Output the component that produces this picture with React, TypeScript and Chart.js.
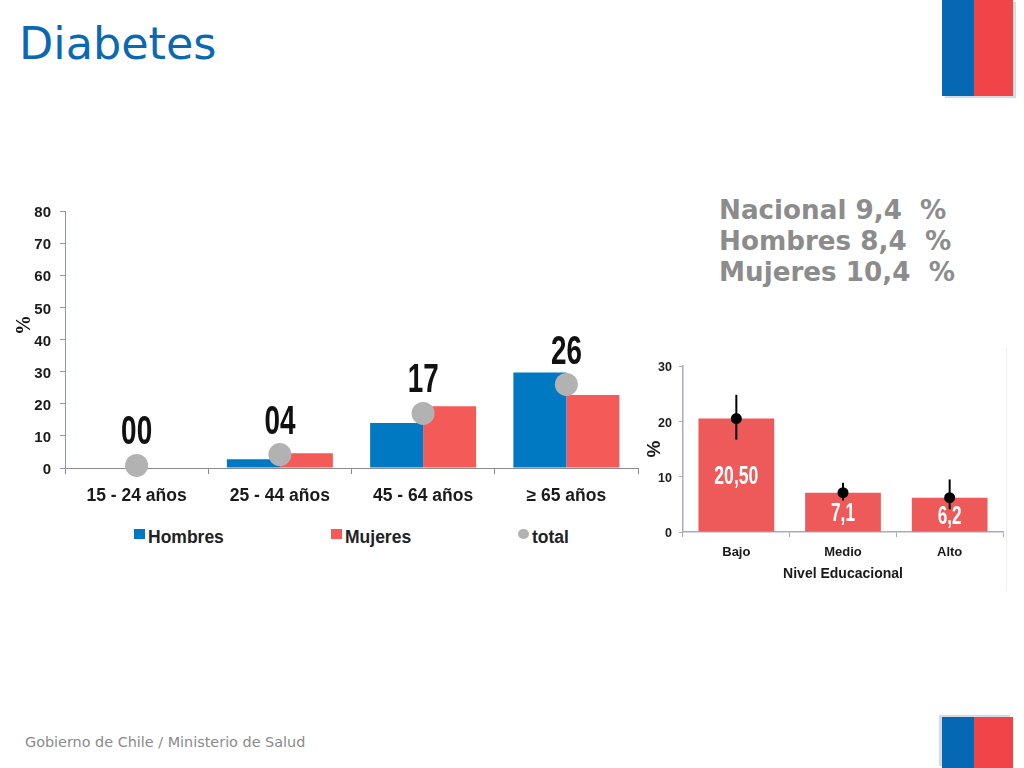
import React, { useEffect, useRef } from 'react'
import { Chart, registerables } from 'chart.js'
import type { Plugin } from 'chart.js'

Chart.register(...registerables)

const grupos = ['15 - 24 años', '25 - 44 años', '45 - 64 años', '≥ 65 años']
const hombres = [0, 2.7, 14, 29.7]
const mujeres = [0, 4.6, 19.2, 22.7]
const total = [0.8, 4.2, 17, 26]
const totalTextos = ['00', '04', '17', '26']

const niveles = ['Bajo', 'Medio', 'Alto']
const prevalencia = [20.5, 7.1, 6.2]
const intervalos: [number, number][] = [[16.7, 24.8], [5.7, 8.9], [4.1, 9.5]]
const prevalenciaTextos = ['20,50', '7,1', '6,2']

const resumen = ['Nacional 9,4  %', 'Hombres 8,4  %', 'Mujeres 10,4  %']

const AZUL = '#0079c2'
const ROJO = '#f45b58'
const ROJO2 = '#ee5a5a'
const GRIS = '#b2b2b2'
const FONT = '"Liberation Sans", Arial, sans-serif'

const totalLabels: Plugin<'bar'> = {
  id: 'totalLabels',
  afterDraw(chart) {
    const { ctx } = chart
    ctx.save()
    ctx.fillStyle = '#111'
    ctx.textAlign = 'center'
    ctx.textBaseline = 'middle'
    ctx.font = `bold 40px ${FONT}`
    chart.getDatasetMeta(2).data.forEach((pt, i) => {
      ctx.fillText(totalTextos[i], pt.x, pt.y - 32, 31)
    })
    // axis title sits above the middle of the axis in the original
    ctx.translate(25, 135)
    ctx.rotate(-Math.PI / 2)
    ctx.font = 'bold 20px "Liberation Serif", serif'
    ctx.fillText('%', 0, 0)
    ctx.restore()
  },
}

const barLabels: Plugin<'bar'> = {
  id: 'barLabels',
  afterDatasetsDraw(chart) {
    const { ctx } = chart
    ctx.save()
    ctx.fillStyle = '#fff'
    ctx.textAlign = 'center'
    ctx.textBaseline = 'middle'
    ctx.font = `bold 26px ${FONT}`
    chart.getDatasetMeta(0).data.forEach((bar, i) => {
      const c = bar.getCenterPoint()
      ctx.fillText(prevalenciaTextos[i], c.x, c.y + 2, i === 0 ? 44 : 24)
    })
    ctx.restore()
  },
}

const GruposChart: React.FC = () => {
  const ref = useRef<HTMLCanvasElement | null>(null)
  useEffect(() => {
    if (!ref.current) return
    const chart = new Chart(ref.current, {
      type: 'bar',
      data: {
        labels: grupos,
        datasets: [
          { label: 'Hombres', data: hombres, backgroundColor: AZUL, order: 1, barPercentage: 1, categoryPercentage: 0.74 },
          { label: 'Mujeres', data: mujeres, backgroundColor: ROJO, order: 1, barPercentage: 1, categoryPercentage: 0.74 },
          {
            type: 'line',
            label: 'total',
            data: total,
            showLine: false,
            pointRadius: 11.5,
            pointBackgroundColor: GRIS,
            pointBorderWidth: 0,
            clip: false,
            order: 0,
          },
        ] as any,
      },
      options: {
        responsive: false,
        animation: false,
        layout: { padding: { top: 21, right: 22, left: 0, bottom: 0 } },
        plugins: { legend: { display: false }, tooltip: { enabled: false } },
        scales: {
          x: {
            grid: { drawOnChartArea: false, color: '#8b8b8b', tickLength: 6 },
            border: { color: '#8b8b8b' },
            ticks: { color: '#1a1a1a', font: { family: FONT, size: 17.5, weight: 'bold' }, padding: 12, maxRotation: 0 },
            afterFit: (s: any) => { s.height = 50 },
          },
          y: {
            min: 0,
            max: 80,
            grid: { drawOnChartArea: false, color: '#8f93bd', tickLength: 5 },
            border: { color: '#8f93bd' },
            ticks: { stepSize: 10, color: '#1a1a1a', font: { family: FONT, size: 15, weight: 'bold' }, padding: 9, labelOffset: 2 },
            afterFit: (s: any) => { s.width = 65 },
          },
        },
      },
      plugins: [totalLabels],
    })
    return () => chart.destroy()
  }, [])
  return <canvas ref={ref} width={660} height={328} style={{ position: 'absolute', left: 0, top: 190 }} />
}

const NivelChart: React.FC = () => {
  const ref = useRef<HTMLCanvasElement | null>(null)
  useEffect(() => {
    if (!ref.current) return
    const chart = new Chart(ref.current, {
      type: 'bar',
      data: {
        labels: niveles,
        datasets: [
          { label: 'Prevalencia', data: prevalencia, backgroundColor: ROJO2, order: 2, grouped: false, barPercentage: 0.71, categoryPercentage: 1 },
          { label: 'IC 95%', data: intervalos, backgroundColor: '#000', order: 1, grouped: false, maxBarThickness: 2 },
          {
            type: 'line',
            label: 'Estimación',
            data: prevalencia,
            showLine: false,
            pointRadius: 5.5,
            pointBackgroundColor: '#000',
            pointBorderWidth: 0,
            order: 0,
          },
        ] as any,
      },
      options: {
        responsive: false,
        animation: false,
        layout: { padding: { top: 26, right: 21, left: 0, bottom: 0 } },
        plugins: { legend: { display: false }, tooltip: { enabled: false } },
        scales: {
          x: {
            grid: { drawOnChartArea: false, color: '#a9a9c4', tickLength: 5 },
            border: { color: '#a9a9c4', width: 1.5 },
            ticks: { color: '#1a1a1a', font: { family: FONT, size: 13, weight: 'bold' }, padding: 8 },
            title: { display: true, text: 'Nivel Educacional', color: '#1a1a1a', font: { family: FONT, size: 14, weight: 'bold' }, padding: { top: 5, bottom: 17 } },
            afterFit: (s: any) => { s.height = 68 },
          },
          y: {
            min: 0,
            max: 30,
            grid: { drawOnChartArea: false, color: '#a9a9c4', tickLength: 4 },
            border: { color: '#a9a9c4', width: 1.5 },
            ticks: { stepSize: 10, color: '#1a1a1a', font: { family: FONT, size: 12.5, weight: 'bold' }, padding: 7, labelOffset: 2 },
            title: { display: true, text: '%', color: '#1a1a1a', font: { family: FONT, size: 19, weight: 'bold' }, padding: { top: 3, bottom: 3 } },
            afterFit: (s: any) => { s.width = 43 },
          },
        },
      },
      plugins: [barLabels],
    })
    return () => chart.destroy()
  }, [])
  return <canvas ref={ref} width={384} height={260} style={{ position: 'absolute', left: 640, top: 340 }} />
}

const Leyenda: React.FC = () => {
  const items = [
    { text: 'Hombres', color: AZUL, left: 134, round: false },
    { text: 'Mujeres', color: ROJO, left: 331, round: false },
    { text: 'total', color: GRIS, left: 518, round: true },
  ]
  return (
    <>
      {items.map((it) => (
        <div key={it.text} style={{ position: 'absolute', left: it.left, top: 527, height: 20, display: 'flex', alignItems: 'center', gap: 3, font: `bold 17.5px ${FONT}`, color: '#222' }}>
          <span style={{ width: 11, height: 10, marginTop: -6, background: it.color, borderRadius: it.round ? '50%' : 0 }} />
          <span>{it.text}</span>
        </div>
      ))}
    </>
  )
}

const Logo: React.FC<{ top: number; height: number; shadow: string }> = ({ top, height, shadow }) => (
  <div style={{ position: 'absolute', left: 942, top, width: 71, height, display: 'flex', boxShadow: shadow }}>
    <div style={{ width: 32, background: '#0468b3' }} />
    <div style={{ width: 39, background: '#f04448' }} />
  </div>
)

export default function App() {
  return (
    <div style={{ position: 'fixed', left: 0, top: 0, width: 1024, height: 768, background: '#fff', overflow: 'hidden' }}>
      <div style={{ position: 'absolute', left: 19, top: 17, font: '44.5px "DejaVu Sans", sans-serif', lineHeight: '54px', color: '#0a69b1' }}>Diabetes</div>
      <Logo top={0} height={96} shadow="3px 2px 1px #d5dbe3" />
      <Logo top={717} height={51} shadow="-3px -2px 1px #d5dbe3" />
      <GruposChart />
      <Leyenda />
      <div style={{ position: 'absolute', left: 1006, top: 348, width: 1, height: 242, background: '#eeeeee' }} />
      <NivelChart />
      <div style={{ position: 'absolute', left: 719, top: 195, font: 'bold 26.2px "DejaVu Sans", sans-serif', lineHeight: '31px', color: '#8c8c8c', whiteSpace: 'pre' }}>
        {resumen.map((t) => <div key={t}>{t}</div>)}
      </div>
      <div style={{ position: 'absolute', left: 25, top: 733, font: '14.4px "DejaVu Sans", sans-serif', lineHeight: '18px', color: '#8a8a8a' }}>Gobierno de Chile / Ministerio de Salud</div>
    </div>
  )
}
